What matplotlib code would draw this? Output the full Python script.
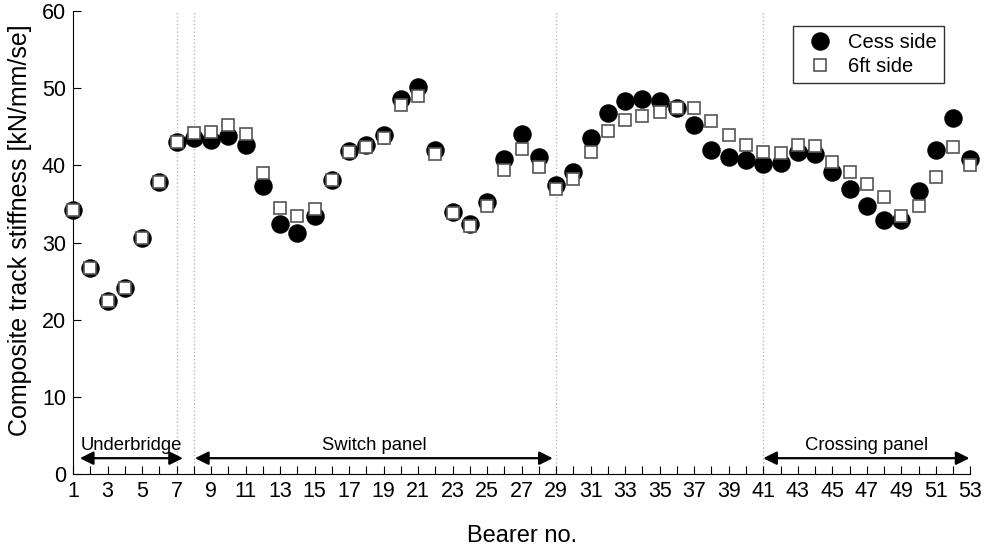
import matplotlib
matplotlib.use('Agg')
import matplotlib.pyplot as plt

plt.rcParams['font.family'] = ['Liberation Sans', 'DejaVu Sans']

# bearer numbers 1..53
bearer = list(range(1, 54))

# composite track stiffness [kN/mm/se]
cess_side = [34.2, 26.7, 22.4, 24.2, 30.6, 37.9, 43.0, 43.5, 43.3, 43.8,
             42.7, 37.3, 32.4, 31.3, 33.5, 38.1, 41.9, 42.7, 43.9, 48.6,
             50.1, 42.0, 34.0, 32.4, 35.3, 40.8, 44.1, 41.1, 37.5, 39.2,
             43.5, 46.8, 48.3, 48.6, 48.4, 47.5, 45.2, 42.0, 41.1, 40.7,
             40.2, 40.3, 41.7, 41.5, 39.1, 36.9, 34.7, 33.0, 33.0, 36.7,
             42.0, 46.1, 40.9]
sixft_side = [34.2, 26.7, 22.4, 24.2, 30.6, 37.9, 43.0, 44.2, 44.4, 45.2,
              44.1, 39.0, 34.5, 33.4, 34.4, 38.1, 41.7, 42.4, 43.6, 47.8,
              49.0, 41.5, 33.9, 32.2, 34.8, 39.4, 42.1, 39.8, 37.0, 38.3,
              41.7, 44.5, 45.9, 46.4, 46.9, 47.5, 47.5, 45.7, 44.0, 42.7,
              41.7, 41.6, 42.7, 42.5, 40.5, 39.1, 37.6, 35.9, 33.4, 34.7,
              38.5, 42.4, 40.1]

# section boundaries and labelled spans
boundaries = [7, 8, 29, 41]
sections = ['Underbridge', 'Switch panel', 'Crossing panel']
section_start = [1.4, 8.07, 41.0]
section_end = [7.37, 28.8, 52.95]

fig = plt.figure(figsize=(9.85, 5.51), dpi=100)
ax = fig.add_axes([0.0741, 0.139, 0.911, 0.841])

for b in boundaries:
    ax.axvline(b, color='#b8b8b8', linestyle=':', linewidth=1, zorder=1)

ax.plot(bearer, cess_side, linestyle='none', marker='o', markersize=12.3,
        markerfacecolor='black', markeredgecolor='black', label='Cess side',
        zorder=3, clip_on=False)
ax.plot(bearer, sixft_side, linestyle='none', marker='s', markersize=9.2,
        markerfacecolor='white', markeredgecolor='#555555', markeredgewidth=1.2,
        label='6ft side', zorder=4, clip_on=False)

# section arrows and labels
for name, s, e in zip(sections, section_start, section_end):
    ax.annotate('', xy=(s, 2.1), xytext=(e, 2.1),
                arrowprops=dict(arrowstyle='<|-|>', color='black', lw=1.6,
                                mutation_scale=20, shrinkA=0, shrinkB=0))
    ax.text((s + e) / 2, 3.8, name, ha='center', va='center', fontsize=13.3)

ax.set_xlim(1, 53)
ax.set_ylim(0, 60)
ax.set_xticks(bearer)
ax.set_xticklabels([str(b) if b % 2 == 1 else '' for b in bearer])
ax.set_yticks(range(0, 61, 10))
ax.tick_params(direction='in', length=6, labelsize=15.5, pad=5)

for side in ['top', 'right']:
    ax.spines[side].set_visible(False)

ax.set_xlabel('Bearer no.', fontsize=17, labelpad=16)
ax.set_ylabel('Composite track stiffness [kN/mm/se]', fontsize=18)
ax.yaxis.set_label_coords(-0.046, 0.527)

leg = ax.legend(loc='upper right', bbox_to_anchor=(0.982, 0.99), fontsize=14.5,
                frameon=True, fancybox=False, edgecolor='black',
                handletextpad=0.4, borderpad=0.35, labelspacing=0.25)
leg.get_frame().set_linewidth(1.0)

fig.savefig('out.png', dpi=100)
